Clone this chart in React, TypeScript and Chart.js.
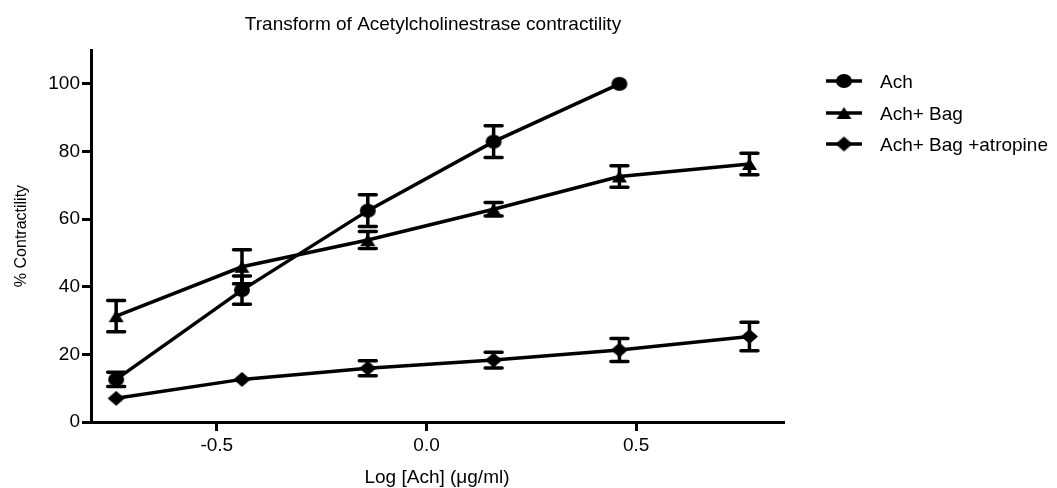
import React, { useEffect, useRef } from "react";
import { Chart, registerables } from "chart.js";

Chart.register(...registerables);

// ---- data ----
const xValues = [-0.74, -0.44, -0.14, 0.16, 0.46, 0.77];
const seriesLabels = ["Ach", "Ach+ Bag", "Ach+ Bag +atropine"];
const achMean = [12.6, 39.0, 62.5, 82.9, 100];
const achSem = [2.1, 4.2, 4.7, 4.7, 0];
const bagMean = [31.3, 45.9, 53.8, 62.9, 72.6, 76.3];
const bagSem = [4.6, 5.0, 2.5, 2.0, 3.2, 3.2];
const atrMean = [7.0, 12.6, 15.9, 18.3, 21.3, 25.3];
const atrSem = [0, 0, 2.2, 2.3, 3.4, 4.2];
const yTicks = [0, 20, 40, 60, 80, 100];
const xTicks = [-0.5, 0, 0.5];
const chartTitle = "Transform of Acetylcholinestrase contractility";
const xTitle = "Log [Ach] (\u03bcg/ml)";
const yTitle = "% Contractility";

const FONT = "'Liberation Sans', Arial, Helvetica, sans-serif";
const meanSets = [achMean, bagMean, atrMean];
const semSets = [achSem, bagSem, atrSem];

function makeMarker(shape: string, w: number, h: number): HTMLCanvasElement {
  const c = document.createElement("canvas");
  c.width = w + 2;
  c.height = h + 2;
  const g = c.getContext("2d")!;
  const cx = c.width / 2;
  const cy = c.height / 2;
  g.fillStyle = "#000";
  g.beginPath();
  if (shape === "circle") {
    g.ellipse(cx, cy, w / 2, h / 2, 0, 0, Math.PI * 2);
  } else if (shape === "triangle") {
    g.moveTo(cx, cy - h / 2);
    g.lineTo(cx + w / 2, cy + h / 2);
    g.lineTo(cx - w / 2, cy + h / 2);
    g.closePath();
  } else {
    g.moveTo(cx, cy - h / 2);
    g.lineTo(cx + w / 2, cy);
    g.lineTo(cx, cy + h / 2);
    g.lineTo(cx - w / 2, cy);
    g.closePath();
  }
  g.fill();
  return c;
}

export default function App() {
  const ref = useRef<HTMLCanvasElement | null>(null);

  useEffect(() => {
    if (!ref.current) return;
    const markers = [
      makeMarker("circle", 16, 14),
      makeMarker("triangle", 15, 12),
      makeMarker("diamond", 17, 15),
    ];

    const errorBars = {
      id: "errorBars",
      beforeDatasetsDraw(chart: any) {
        const { ctx } = chart;
        const xs = chart.scales.x;
        const ys = chart.scales.y;
        ctx.save();
        ctx.strokeStyle = "#000";
        ctx.lineWidth = 3.5;
        ctx.lineCap = "round";
        chart.data.datasets.forEach((ds: any, i: number) => {
          const errs = semSets[i];
          ds.data.forEach((p: any, j: number) => {
            const e = errs[j];
            if (!e) return;
            const px = xs.getPixelForValue(p.x);
            const top = ys.getPixelForValue(p.y + e);
            const bot = ys.getPixelForValue(p.y - e);
            ctx.beginPath();
            ctx.moveTo(px, top);
            ctx.lineTo(px, bot);
            ctx.moveTo(px - 8.5, top);
            ctx.lineTo(px + 8.5, top);
            ctx.moveTo(px - 8.5, bot);
            ctx.lineTo(px + 8.5, bot);
            ctx.stroke();
          });
        });
        ctx.restore();
      },
    };

    const decorations = {
      id: "decorations",
      afterDraw(chart: any) {
        const { ctx } = chart;
        ctx.save();
        ctx.fillStyle = "#000";
        ctx.font = `19px ${FONT}`;
        ctx.textAlign = "center";
        ctx.textBaseline = "alphabetic";
        ctx.fillText(chartTitle, 433, 30);

        const rowY = [81, 113, 144];
        const baseY = [88, 120, 151];
        ctx.textAlign = "left";
        chart.data.datasets.forEach((ds: any, i: number) => {
          ctx.strokeStyle = "#000";
          ctx.lineWidth = 3.5;
          ctx.beginPath();
          ctx.moveTo(826, rowY[i]);
          ctx.lineTo(862, rowY[i]);
          ctx.stroke();
          const m = markers[i];
          ctx.drawImage(m, 844 - m.width / 2, rowY[i] - m.height / 2);
          ctx.fillText(ds.label, 880, baseY[i]);
        });
        ctx.restore();
      },
    };

    const datasets = meanSets.map((means, i) => ({
      label: seriesLabels[i],
      data: means.map((v, j) => ({ x: xValues[j], y: v })),
      borderColor: "#000",
      backgroundColor: "#000",
      borderWidth: 3.5,
      tension: 0,
      pointStyle: markers[i] as any,
      pointRadius: 8,
      pointHoverRadius: 8,
      clip: false as any,
    }));

    const chart = new Chart(ref.current, {
      type: "line",
      data: { datasets },
      options: {
        animation: false,
        responsive: true,
        maintainAspectRatio: false,
        layout: { padding: { top: 50, right: 274, left: 0, bottom: 0 } },
        plugins: {
          legend: { display: false },
          title: { display: false },
          tooltip: { enabled: false },
        },
        scales: {
          x: {
            type: "linear",
            min: -0.8,
            max: 0.85,
            afterBuildTicks: (s: any) => {
              s.ticks = xTicks.map((v) => ({ value: v }));
            },
            afterFit: (s: any) => {
              s.height = 66;
            },
            grid: {
              display: true,
              drawOnChartArea: false,
              drawTicks: true,
              tickLength: 9,
              lineWidth: 3,
              color: "#000",
            },
            border: { display: true, color: "#000", width: 3 },
            ticks: {
              color: "#000",
              font: { family: FONT, size: 19 },
              padding: 3,
              maxRotation: 0,
              autoSkip: false,
              callback: (v: any) => Number(v).toFixed(1),
            },
            title: {
              display: true,
              text: xTitle,
              color: "#000",
              font: { family: FONT, size: 19, lineHeight: 1 },
              padding: { top: 0, bottom: 0.5 },
            },
          },
          y: {
            type: "linear",
            min: 0,
            max: 110,
            afterBuildTicks: (s: any) => {
              s.ticks = yTicks.map((v) => ({ value: v }));
            },
            afterFit: (s: any) => {
              s.width = 91;
            },
            grid: {
              display: true,
              drawOnChartArea: false,
              drawTicks: true,
              tickLength: 9,
              lineWidth: 3,
              color: "#000",
            },
            border: { display: true, color: "#000", width: 3 },
            ticks: {
              color: "#000",
              font: { family: FONT, size: 19 },
              padding: 2,
              autoSkip: false,
              callback: (v: any) => String(v),
            },
            title: {
              display: true,
              text: yTitle,
              color: "#000",
              font: { family: FONT, size: 16, lineHeight: 1.2 },
              padding: { top: 12, bottom: 0 },
            },
          },
        },
      },
      plugins: [errorBars, decorations],
    });

    return () => chart.destroy();
  }, []);

  return (
    <div
      style={{
        position: "fixed",
        left: 0,
        top: 0,
        width: "1057px",
        height: "488px",
        background: "#fff",
      }}
    >
      <canvas ref={ref} />
    </div>
  );
}
